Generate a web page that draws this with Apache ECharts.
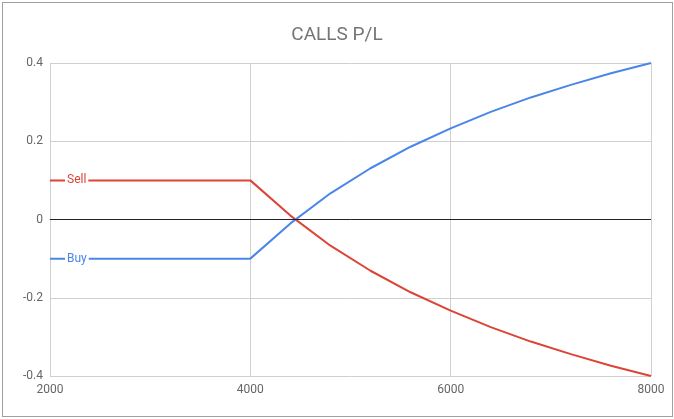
<!DOCTYPE html>
<html>
<head>
<meta charset="utf-8">
<script src="https://cdn.jsdelivr.net/npm/echarts@6/dist/echarts.min.js"></script>
<style>
html,body{margin:0;padding:0;background:#fff;}
#frame{position:absolute;left:2px;top:2px;width:669px;height:413px;border:1px solid #a0a0a0;}
#chart{position:absolute;left:0;top:0;width:674px;height:419px;}
</style>
</head>
<body>
<div id="frame"></div>
<div id="chart"></div>
<script>
const titleText = "CALLS P/L";
const prices = [2000, 2400, 2800, 3200, 3600, 4000, 4400, 4800, 5200, 5600, 6000, 6400, 6800, 7200, 7600, 8000];
const buyPL  = [-0.1, -0.1, -0.1, -0.1, -0.1, -0.1, -0.01, 0.067, 0.131, 0.186, 0.233, 0.275, 0.312, 0.344, 0.374, 0.4];
const sellPL = [0.1, 0.1, 0.1, 0.1, 0.1, 0.1, 0.01, -0.067, -0.131, -0.186, -0.233, -0.275, -0.312, -0.344, -0.374, -0.4];
const seriesNames = ["Sell", "Buy"];

const chart = echarts.init(document.getElementById('chart'));
function mk(name, vals, color) {
  return {
    name: name,
    type: 'line',
    data: prices.map((p, i) => [p, vals[i]]),
    showSymbol: false,
    symbol: 'none',
    lineStyle: {color: color, width: 2},
    itemStyle: {color: color},
    z: 3,
    markPoint: {
      symbol: 'rect', symbolSize: 0,
      data: [{coord: [prices[0], vals[0]], value: name}],
      label: {
        show: true, position: 'right', distance: 15, formatter: name,
        color: color, fontFamily: 'Roboto', fontSize: 12,
        backgroundColor: '#fff', padding: [1, 2]
      }
    }
  };
}
chart.setOption({
  animation: false,
  title: {
    text: titleText, left: 'center', top: 21,
    textStyle: {fontFamily: 'Roboto', fontSize: 19, fontWeight: 'normal', color: '#757575'}
  },
  grid: {left: 50, right: 23, top: 63, bottom: 43},
  xAxis: {
    type: 'value', min: 2000, max: 8000, interval: 2000,
    axisLine: {show: true, lineStyle: {color: '#bdbdbd'}},
    axisTick: {show: false},
    axisLabel: {color: '#666', fontFamily: 'Roboto', fontSize: 12, margin: 8,
      formatter: v => String(v)},
    splitLine: {show: true, lineStyle: {color: '#d0d0d0'}}
  },
  yAxis: {
    type: 'value', min: -0.4, max: 0.4, interval: 0.2,
    axisLine: {show: false},
    axisTick: {show: false},
    axisLabel: {color: '#666', fontFamily: 'Roboto', fontSize: 12, margin: 7,
      formatter: v => (Math.abs(v) < 1e-9 ? '0' : String(Math.round(v * 10) / 10))},
    splitLine: {show: true, lineStyle: {color: '#d0d0d0'}}
  },
  series: [
    mk(seriesNames[0], sellPL, '#db4437'),
    mk(seriesNames[1], buyPL, '#4a86e8'),
    {
      type: 'line', data: [], silent: true,
      markLine: {
        symbol: 'none', silent: true, label: {show: false},
        lineStyle: {color: '#222', width: 1, type: 'solid'},
        data: [{yAxis: 0}]
      }, z: 2
    }
  ]
});
</script>
</body>
</html>
